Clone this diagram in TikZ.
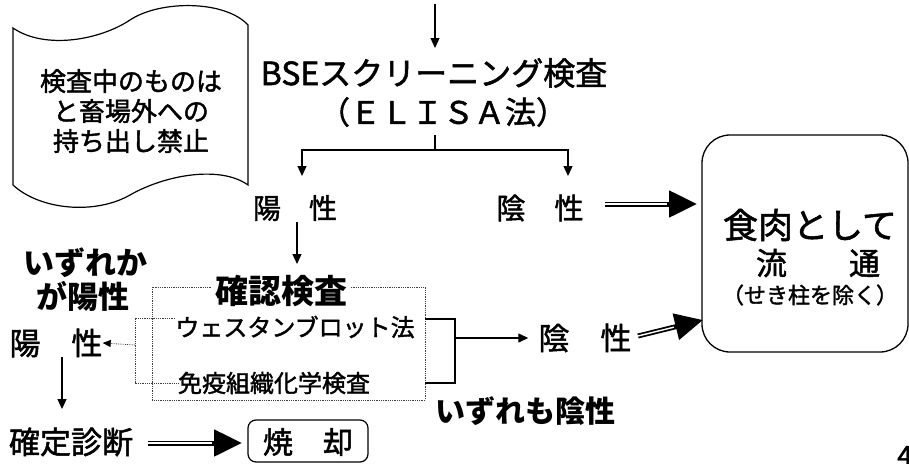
\documentclass[tikz,border=0pt]{standalone}
\usepackage{fontspec}
\setmainfont{Noto Sans CJK JP}
\newfontfamily\medfont{Noto Sans CJK JP}[FakeBold=1.6]
\usetikzlibrary{arrows.meta,calc}
\newcommand\dblarrow[2]{%
  \draw[line width=5pt,-{Triangle[length=28pt,width=26pt]}] (#1) -- (#2);
  \draw[white,line width=1.4pt,shorten >=30pt] (#1) -- (#2);}
\tikzset{
  lbl/.style={inner sep=0pt,font=\medfont\fontsize{#1}{#1}\selectfont},
  blbl/.style={inner sep=0pt,font=\bfseries\fontsize{#1}{#1}\selectfont},
  arr/.style={line width=1.3pt,-{Triangle[length=10pt,width=9pt]}},
  dots/.style={densely dotted,line width=0.8pt,black!75},
  frame/.style={draw,line width=1.3pt},
}
\begin{document}
\begin{tikzpicture}[x=1pt,y=-1pt]
\useasboundingbox (0,0) rectangle (909,463);
% banner
\draw[line width=1.2pt] (13,28) .. controls (45,50) and (100,40) .. (130,20)
  .. controls (160,0) and (225,0) .. (248,25) -- (248,185)
  .. controls (220,165) and (165,175) .. (130,195)
  .. controls (95,215) and (40,210) .. (13,185) -- cycle;
\node[lbl=26,align=center,font=\medfont\fontsize{26}{30}\selectfont] (ban) at (131,111) {検査中のものは\\と畜場外への\\持ち出し禁止};
% screening
\coordinate (top) at (435,4);
\coordinate (topend) at (435,48);
\draw[arr] (top) -- (topend);
\node[lbl=32] (bse) at (434,73) {BSEスクリーニング検査};
\node[lbl=31] (elisa) at (443,112) {（ＥＬＩＳＡ法）};
\coordinate (brs) at (435,135);
\coordinate (br) at (435,150);
\coordinate (bl) at (302,176);
\coordinate (brr) at (568,176);
\draw[line width=1.3pt] (brs) -- (br);
\draw[arr] (br) -| (bl);
\draw[arr] (br) -| (brr);
\node[lbl=28] (pos1) at (295,208) {陽　性};
\node[lbl=29] (neg1) at (540,208) {陰　性};
% meat box
\node[frame,rounded corners=28pt,minimum width=206pt,minimum height=217pt] (meat) at (805,243.5) {};
\node[lbl=35] (m1) at (810,225) {食肉として};
\node[lbl=31] (m2) at (818,263) {流　　通};
\node[lbl=22] (m3) at (810,295) {（せき柱を除く）};
\coordinate (d1s) at (605,204);
\coordinate (d1e) at (697,204);
\dblarrow{d1s}{d1e}
% confirmation
\coordinate (p1d) at (297,222);
\coordinate (cfn) at (297,264);
\draw[arr] (p1d) -- (cfn);
\draw[dots] (152,287) rectangle (425,400);
\node[blbl=33,fill=white,inner xsep=4pt] (conf) at (281,291) {確認検査};
\node[lbl=24] (wb) at (295,327) {ウェスタンブロット法};
\node[lbl=24] (ihc) at (274,383) {免疫組織化学検査};
\coordinate (wbl) at (175,318);
\coordinate (dl1) at (135,318);
\coordinate (dl2) at (135,383);
\coordinate (dlm) at (135,345);
\draw[dots] (wbl) -- (dl1) -- (dl2) -- (ihc.west);
\node[lbl=31] (pos2) at (56,343) {陽　性};
\draw[dots,-{Triangle[length=8pt,width=7pt,color=black]}] (dlm) -- (pos2.east);
\node[blbl=31] (any) at (85,263) {いずれか};
\node[blbl=31] (anyp) at (83,296) {が陽性};
\coordinate (p2d) at (62,357);
\coordinate (dgn) at (62,409);
\draw[arr] (p2d) -- (dgn);
\node[lbl=31] (diag) at (71,442) {確定診断};
\node[frame,line width=1.2pt,rounded corners=8pt,minimum width=120pt,minimum height=42pt] (burn) at (308,441) {};
\node[lbl=30] (burnt) at (308,442) {焼　却};
\coordinate (d3s) at (148,443);
\coordinate (d3e) at (242,443);
\dblarrow{d3s}{d3e}
% negative path
\coordinate (rb1) at (425,319);
\coordinate (rb2) at (455,319);
\coordinate (rb3) at (455,383);
\coordinate (rb4) at (425,383);
\coordinate (rbm) at (455,338);
\draw[line width=1.3pt] (rb1) -- (rb2) -- (rb3) -- (rb4);
\node[lbl=31] (neg2) at (585,338) {陰　性};
\draw[arr,shorten >=10pt] (rbm) -- (neg2.west);
\node[blbl=30] (allneg) at (525,411) {いずれも陰性};
\coordinate (d2s) at (638,336);
\coordinate (d2e) at (703,320);
\dblarrow{d2s}{d2e}
\node[lbl=28,anchor=base west] (pg) at (897,466) {4};
\end{tikzpicture}
\end{document}
